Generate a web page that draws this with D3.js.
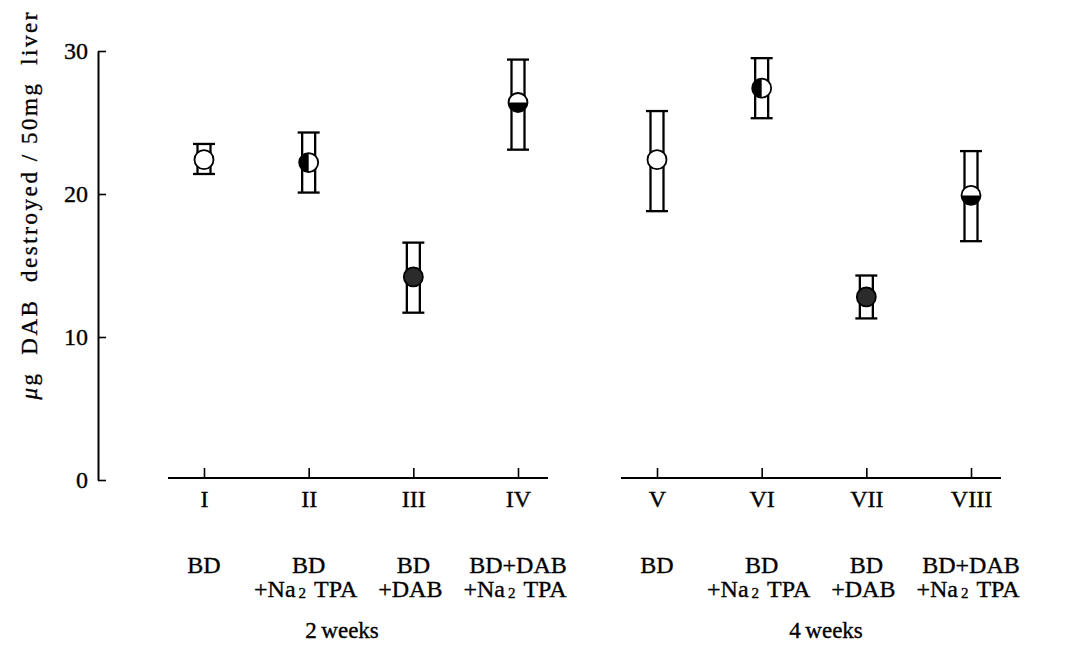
<!DOCTYPE html>
<html>
<head>
<meta charset="utf-8">
<script src="https://cdn.jsdelivr.net/npm/d3@7"></script>
<style>
  body { margin: 0; background: #fff; }
  text { font-family: "Liberation Serif", "DejaVu Serif", serif; fill: #000; stroke: #000; stroke-width: 0.35px; }
</style>
</head>
<body>
<div id="chart"></div>
<script>
// groups and categories
const groups = ["2 weeks", "4 weeks"];
const numerals = ["I", "II", "III", "IV", "V", "VI", "VII", "VIII"];
const groupOf = [0, 0, 0, 0, 1, 1, 1, 1];
const line1 = ["BD", "BD", "BD", "BD+DAB", "BD", "BD", "BD", "BD+DAB"];
const line2 = ["", "+Na2TPA", "+DAB", "+Na2TPA", "", "+Na2TPA", "+DAB", "+Na2TPA"];

// ug DAB destroyed / 50 mg liver (mean and range)
const means = [22.4, 22.2, 14.2, 26.4, 22.4, 27.4, 12.8, 19.9];
const lows = [21.4, 20.1, 11.7, 23.1, 18.8, 25.3, 11.3, 16.7];
const highs = [23.5, 24.3, 16.6, 29.4, 25.8, 29.5, 14.3, 23.0];
// marker fill: open, left half, full, bottom half
const markers = ["open", "left", "full", "bottom", "open", "left", "full", "bottom"];

const yTicks = [0, 10, 20, 30];

const svgWidth = 1077;
const svgHeight = 657;

const svg = d3.select("#chart")
  .append("svg")
  .attr("width", svgWidth)
  .attr("height", svgHeight);

const y = d3.scaleLinear().domain([0, 30]).range([480, 51]);

// each group gets its own point scale, placed side by side
const groupX = d3.scaleOrdinal().domain(groups).range([204, 657]);
const inner = d3.scalePoint().domain([0, 1, 2, 3]).range([0, 314]);
const xPos = i => groupX(groups[groupOf[i]]) + inner(i % 4);

// y axis
const yAxis = svg.append("g")
  .attr("transform", "translate(98,0)")
  .call(d3.axisLeft(y).tickValues(yTicks).tickSize(-8).tickSizeOuter(0).tickPadding(10));
yAxis.select(".domain").attr("stroke", "#000").attr("stroke-width", 2);
yAxis.selectAll(".tick line").attr("stroke", "#000").attr("stroke-width", 1.6);
yAxis.selectAll(".tick text")
  .attr("font-size", 24)
  .attr("fill", "#000");

// y label
svg.append("text")
  .attr("transform", "translate(37,206) rotate(-90)")
  .attr("text-anchor", "middle")
  .attr("font-size", 23)
  .attr("textLength", 387)
  .attr("lengthAdjust", "spacing")
  .style("white-space", "pre")
  .html('<tspan font-style="italic">μ</tspan>g  DAB  destroyed / 50mg  liver');

// x axes, one per group
const groupLabelOffset = [138, 169];
groups.forEach((g, gi) => {
  const idx = d3.range(8).filter(i => groupOf[i] === gi);
  const sc = d3.scalePoint().domain(idx.map(i => numerals[i])).range([0, 314]);
  const ax = svg.append("g")
    .attr("transform", `translate(${groupX(g)},478)`)
    .call(d3.axisBottom(sc).tickSize(-10).tickSizeOuter(0).tickPadding(12));
  ax.select(".domain").attr("d", "M-36,0H344").attr("stroke", "#000").attr("stroke-width", 2);
  ax.selectAll(".tick line").attr("stroke", "#000").attr("stroke-width", 1.6);
  ax.selectAll(".tick text")
    .attr("font-size", 24)
    .attr("fill", "#000");

  svg.append("text")
    .attr("x", groupX(g) + groupLabelOffset[gi])
    .attr("y", 638)
    .attr("text-anchor", "middle")
    .attr("font-size", 23)
    .style("white-space", "pre")
    .text(g.replace(" ", "\u2009"));
});

// treatment labels
const lab = svg.append("g").attr("font-size", 24).attr("text-anchor", "middle");
line1.forEach((t, i) => {
  lab.append("text").attr("x", xPos(i)).attr("y", 573).text(t);
});
line2.forEach((t, i) => {
  if (!t) return;
  const tx = lab.append("text")
    .attr("x", xPos(i) - 3)
    .attr("y", 597);
  if (t.includes("Na2")) {
    tx.append("tspan").text("+Na");
    tx.append("tspan").attr("font-size", 15).attr("dx", 3).attr("dy", 1).text("2");
    tx.append("tspan").attr("dx", 8).attr("dy", -1).text("TPA");
  } else {
    tx.text(t);
  }
});

// error bars
const bars = svg.append("g").attr("stroke", "#000").attr("stroke-width", 2.3).attr("fill", "none");
means.forEach((m, i) => {
  const cx = xPos(i);
  bars.append("line").attr("x1", cx - 6.5).attr("x2", cx - 6.5).attr("y1", y(highs[i])).attr("y2", y(lows[i]));
  bars.append("line").attr("x1", cx + 6.5).attr("x2", cx + 6.5).attr("y1", y(highs[i])).attr("y2", y(lows[i]));
  bars.append("line").attr("x1", cx - 11).attr("x2", cx + 11).attr("y1", y(highs[i])).attr("y2", y(highs[i]));
  bars.append("line").attr("x1", cx - 11).attr("x2", cx + 11).attr("y1", y(lows[i])).attr("y2", y(lows[i]));
});

// markers
const r = 9.5;
const pts = svg.append("g");
means.forEach((m, i) => {
  const cx = xPos(i), cy = y(m);
  const kind = markers[i];
  pts.append("circle").attr("cx", cx).attr("cy", cy).attr("r", r)
    .attr("fill", kind === "full" ? "#2b2b2b" : "#fff")
    .attr("stroke", "#000").attr("stroke-width", 1.8);
  if (kind === "left") {
    pts.append("path")
      .attr("d", `M${cx},${cy - r}A${r},${r} 0 0 0 ${cx},${cy + r}Z`)
      .attr("fill", "#000");
  }
  if (kind === "bottom") {
    pts.append("path")
      .attr("d", `M${cx - r},${cy}A${r},${r} 0 0 0 ${cx + r},${cy}Z`)
      .attr("fill", "#000");
  }
});
</script>
</body>
</html>
